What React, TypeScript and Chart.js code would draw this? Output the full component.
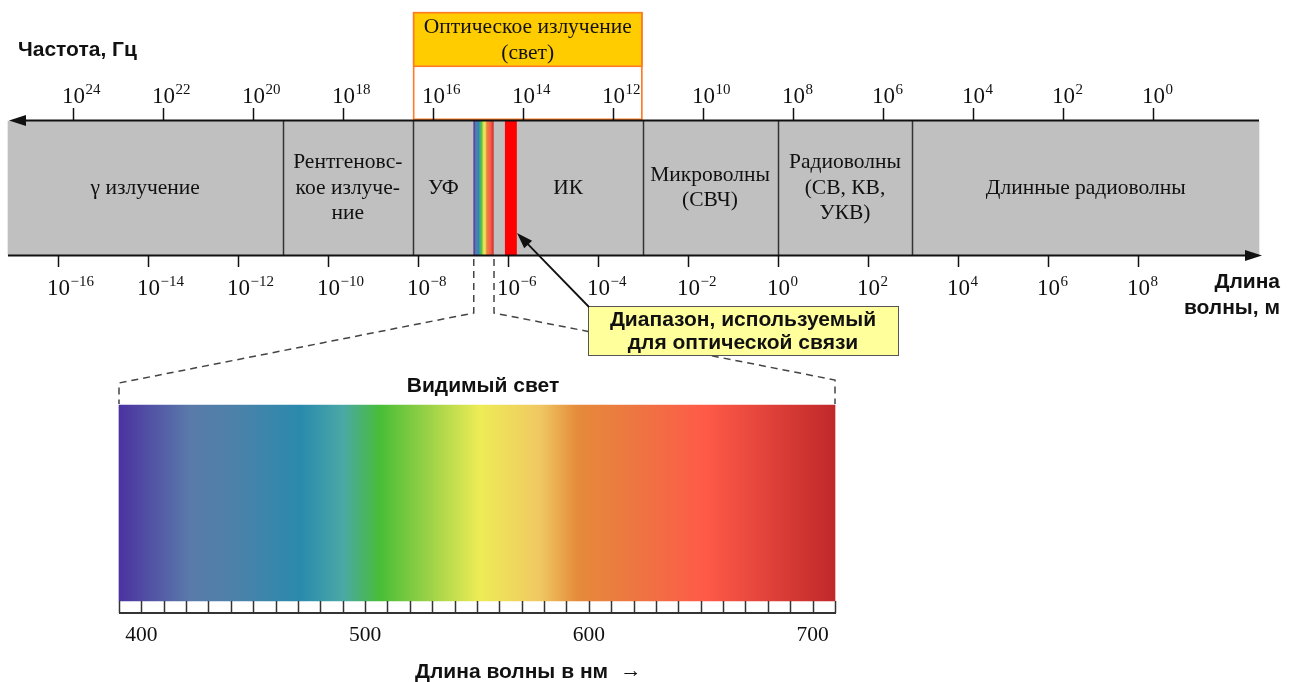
import React, { useEffect, useRef } from 'react';
import { Chart, registerables } from 'chart.js';

Chart.register(...registerables);

// ---------- data ----------
// Bands of the electromagnetic spectrum, in log10(wavelength, m)
const regionNames = [
  'γ излучение',
  'Рентгеновс-\nкое излуче-\nние',
  'УФ',
  '',
  'ИК',
  'Микроволны\n(СВЧ)',
  'Радиоволны\n(СВ, КВ,\nУКВ)',
  'Длинные радиоволны',
];
const regionStarts = [-17.1, -11.0, -8.1, -6.75, -6.3, -3.0, 0.0, 3.0];
const regionEnds = [-11.0, -8.1, -6.75, -6.3, -3.0, 0.0, 3.0, 10.7];
const regionDividers = [false, true, true, false, false, true, true, true];
const visibleIndex = 3;

const opticalRange = [-8.1, -3.0];
const opticalTitle = ['Оптическое излучение', '(свет)'];
const fiberRange = [-6.05, -5.8];
const calloutText = ['Диапазон, используемый', 'для оптической связи'];

const freqExponents = [24, 22, 20, 18, 16, 14, 12, 10, 8, 6, 4, 2, 0];
const waveExponents = [-16, -14, -12, -10, -8, -6, -4, -2, 0, 2, 4, 6, 8];

const visibleRangeNm = [390, 710];
const nmLabels = [400, 500, 600, 700];

const freqTitle = 'Частота, Гц';
const waveTitle = ['Длина', 'волны, м'];
const visibleTitle = 'Видимый свет';
const nmTitle = 'Длина волны в нм';

// ---------- styles ----------
const spectrumStops: [number, string][] = [
  [0, '#4B32A0'],
  [0.099, '#5A7AAA'],
  [0.169, '#4A82AA'],
  [0.253, '#2A8AAD'],
  [0.313, '#4AA8A6'],
  [0.365, '#48BE36'],
  [0.425, '#92CF45'],
  [0.504, '#EEEC56'],
  [0.588, '#F0C862'],
  [0.641, '#E58A3A'],
  [0.728, '#EE7442'],
  [0.82, '#FF5A48'],
  [1, '#C0282A'],
];
const W = 1294;
const H = 682;
const serif = (s: number) => `${s}px "Liberation Serif", "Times New Roman", serif`;
const sansB = (s: number) => `bold ${s}px "Liberation Sans", Arial, sans-serif`;
const TEXT_SERIF = 21.5;
const TEXT_SANS = 21;

function makeGradient(c: CanvasRenderingContext2D, x0: number, x1: number, fallback: string) {
  if (!isFinite(x0) || !isFinite(x1) || x0 === x1) return fallback;
  const g = c.createLinearGradient(x0, 0, x1, 0);
  spectrumStops.forEach(([o, col]) => g.addColorStop(o, col));
  return g;
}

function drawPow(c: CanvasRenderingContext2D, x: number, base: number, exp: number, big: number, small: number, raise: number) {
  c.fillStyle = '#111';
  c.textBaseline = 'alphabetic';
  c.textAlign = 'left';
  c.font = serif(big);
  const w10 = c.measureText('10').width;
  c.fillText('10', x - w10 / 2, base);
  c.font = serif(small);
  const s = exp < 0 ? '\u2212' + Math.abs(exp) : String(exp);
  c.fillText(s, x + w10 / 2 + 0.5, base - raise);
}

function arrowHead(c: CanvasRenderingContext2D, tx: number, ty: number, ang: number, len: number, half: number) {
  const bx = tx - Math.cos(ang) * len;
  const by = ty - Math.sin(ang) * len;
  const px = -Math.sin(ang) * half;
  const py = Math.cos(ang) * half;
  c.beginPath();
  c.moveTo(tx, ty);
  c.lineTo(bx + px, by + py);
  c.lineTo(bx - px, by - py);
  c.closePath();
  c.fill();
}

const overlay = {
  id: 'overlay',
  afterDatasetsDraw(chart: any) {
    const c: CanvasRenderingContext2D = chart.ctx;
    const xL = chart.scales.xL;
    const xF = chart.scales.xF;
    const xN = chart.scales.xN;
    c.save();

    // dividers between bands
    c.strokeStyle = '#333';
    c.lineWidth = 1.5;
    regionStarts.forEach((s, i) => {
      if (!regionDividers[i]) return;
      const x = Math.round(xL.getPixelForValue(s)) + 0.5;
      c.beginPath();
      c.moveTo(x, 121);
      c.lineTo(x, 255);
      c.stroke();
    });

    // axes lines
    c.strokeStyle = '#111';
    c.fillStyle = '#111';
    c.lineWidth = 2;
    c.beginPath();
    c.moveTo(14, 120.5);
    c.lineTo(xL.getPixelForValue(regionEnds[regionEnds.length - 1]), 120.5);
    c.stroke();
    arrowHead(c, 9, 120.5, Math.PI, 17, 5.5);
    c.beginPath();
    c.moveTo(xL.getPixelForValue(regionStarts[0]), 255.5);
    c.lineTo(1256, 255.5);
    c.stroke();
    arrowHead(c, 1262, 255.5, 0, 17, 5.5);

    // frequency ticks
    c.lineWidth = 1.5;
    freqExponents.forEach((e) => {
      const x = Math.round(xF.getPixelForValue(e)) + 0.5;
      c.strokeStyle = '#111';
      c.beginPath();
      c.moveTo(x, 108);
      c.lineTo(x, 120);
      c.stroke();
      drawPow(c, x, 103, e, 23, 15, 9);
    });
    // wavelength ticks
    waveExponents.forEach((e) => {
      const x = Math.round(xL.getPixelForValue(e)) + 0.5;
      c.strokeStyle = '#111';
      c.beginPath();
      c.moveTo(x, 256);
      c.lineTo(x, 267);
      c.stroke();
      drawPow(c, x, 295, e, 23, 15, 9);
    });

    // band labels
    c.fillStyle = '#111';
    c.font = serif(TEXT_SERIF);
    c.textAlign = 'center';
    c.textBaseline = 'middle';
    regionNames.forEach((n, i) => {
      if (!n) return;
      const lines = n.split('\n');
      const cx = xL.getPixelForValue((regionStarts[i] + regionEnds[i]) / 2);
      const lh = 25.5;
      const y0 = 188 - ((lines.length - 1) * lh) / 2;
      lines.forEach((l, k) => c.fillText(l, cx, y0 + k * lh));
    });

    // optical header text
    const ocx = xL.getPixelForValue((opticalRange[0] + opticalRange[1]) / 2);
    c.fillText(opticalTitle[0], ocx, 27);
    c.fillText(opticalTitle[1], ocx, 53);

    // axis titles
    c.font = sansB(TEXT_SANS);
    c.textAlign = 'left';
    c.fillText(freqTitle, 18, 50);
    c.textAlign = 'right';
    c.fillText(waveTitle[0], 1280, 282);
    c.fillText(waveTitle[1], 1280, 308);

    // dashed zoom lines
    const vL = xL.getPixelForValue(regionStarts[visibleIndex]);
    const vR = xL.getPixelForValue(regionEnds[visibleIndex]);
    const sL = xN.getPixelForValue(visibleRangeNm[0]);
    const sR = xN.getPixelForValue(visibleRangeNm[1]);
    c.strokeStyle = '#444';
    c.lineWidth = 1.5;
    c.setLineDash([7, 5]);
    c.beginPath();
    c.moveTo(vL, 259);
    c.lineTo(vL, 313);
    c.lineTo(sL, 383);
    c.lineTo(sL, 404);
    c.stroke();
    c.beginPath();
    c.moveTo(vR, 259);
    c.lineTo(vR, 313);
    c.lineTo(sR, 380);
    c.lineTo(sR, 404);
    c.stroke();
    c.setLineDash([]);

    // callout
    c.fillStyle = '#FFFF9C';
    c.fillRect(588.5, 306.5, 310, 49);
    c.strokeStyle = '#555';
    c.lineWidth = 1;
    c.strokeRect(588.5, 306.5, 310, 49);
    c.fillStyle = '#111';
    c.font = sansB(TEXT_SANS);
    c.textAlign = 'center';
    c.textBaseline = 'middle';
    c.fillText(calloutText[0], 743, 320);
    c.fillText(calloutText[1], 743, 343);

    // callout arrow to fiber band
    const fx = xL.getPixelForValue(fiberRange[1]);
    const tx = fx + 0.5;
    const ty = 233;
    const ang = Math.atan2(ty - 307, tx - 589);
    c.strokeStyle = '#111';
    c.lineWidth = 1.8;
    c.beginPath();
    c.moveTo(589, 307);
    c.lineTo(tx - Math.cos(ang) * 10, ty - Math.sin(ang) * 10);
    c.stroke();
    arrowHead(c, tx, ty, ang, 16, 5.5);

    // visible spectrum ticks (from the nm scale's own ticks)
    c.strokeStyle = '#333';
    c.lineWidth = 1.5;
    const nmTicks = xN.ticks
      .map((t: any) => t.value)
      .filter((v: number) => v >= visibleRangeNm[0] - 1e-6 && v <= visibleRangeNm[1] + 1e-6 && Math.abs(v / 10 - Math.round(v / 10)) < 1e-6);
    nmTicks.forEach((v: number) => {
      const x = Math.round(xN.getPixelForValue(v)) + 0.5;
      c.beginPath();
      c.moveTo(x, 601);
      c.lineTo(x, 613);
      c.stroke();
    });
    c.lineWidth = 2;
    c.beginPath();
    c.moveTo(sL, 613);
    c.lineTo(sR + 1, 613);
    c.stroke();

    c.fillStyle = '#111';
    c.font = serif(TEXT_SERIF);
    c.textAlign = 'center';
    nmLabels.forEach((v) => c.fillText(String(v), xN.getPixelForValue(v), 635));

    c.font = sansB(TEXT_SANS);
    c.fillText(visibleTitle, 483, 386);
    c.textAlign = 'left';
    c.fillText(nmTitle, 415, 672);
    const tw = c.measureText(nmTitle).width;
    c.font = serif(TEXT_SERIF);
    c.fillText('\u2192', 415 + tw + 12, 671);

    c.restore();
  },
};

export default function App() {
  const ref = useRef<HTMLCanvasElement | null>(null);
  useEffect(() => {
    document.body.style.margin = '0';
    const canvas = ref.current;
    if (!canvas) return;
    const common = { barPercentage: 1, categoryPercentage: 1, grouped: false, indexAxis: 'y', yAxisID: 'y', borderWidth: 0 };
    const chart = new Chart(canvas, {
      type: 'bar',
      data: {
        datasets: [
          {
            ...common,
            label: 'optical-body',
            data: [{ x: opticalRange, y: 66 }] as any,
            xAxisID: 'xL',
            barThickness: 108,
            backgroundColor: '#FFFFFF',
            borderColor: '#FF7A22',
            borderWidth: 1.8,
            borderSkipped: false,
            order: 5,
          } as any,
          {
            ...common,
            label: 'optical-head',
            data: [{ x: opticalRange, y: 39.5 }] as any,
            xAxisID: 'xL',
            barThickness: 55,
            backgroundColor: '#FFCC00',
            borderColor: '#FF7A22',
            borderWidth: 1.8,
            borderSkipped: false,
            order: 4,
          } as any,
          {
            ...common,
            label: 'bands',
            data: regionStarts.map((s, i) => ({ x: [s, regionEnds[i]], y: 188 })) as any,
            xAxisID: 'xL',
            barThickness: 134,
            backgroundColor: (ctx: any) => {
              if (ctx.dataIndex === visibleIndex && ctx.chart.scales.xL) {
                const s = ctx.chart.scales.xL;
                return makeGradient(ctx.chart.ctx, s.getPixelForValue(regionStarts[visibleIndex]), s.getPixelForValue(regionEnds[visibleIndex]), '#8080C0');
              }
              return '#C0C0C0';
            },
            order: 3,
          } as any,
          {
            ...common,
            label: 'fiber',
            data: [{ x: fiberRange, y: 188 }] as any,
            xAxisID: 'xL',
            barThickness: 134,
            backgroundColor: '#FF0000',
            order: 2,
          } as any,
          {
            ...common,
            label: 'visible',
            data: [{ x: visibleRangeNm, y: 503 }] as any,
            xAxisID: 'xN',
            barThickness: 196,
            backgroundColor: (ctx: any) => {
              const s = ctx.chart.scales.xN;
              if (!s) return '#888';
              return makeGradient(ctx.chart.ctx, s.getPixelForValue(visibleRangeNm[0]), s.getPixelForValue(visibleRangeNm[1]), '#888');
            },
            order: 1,
          } as any,
        ],
      },
      options: {
        indexAxis: 'y',
        responsive: false,
        animation: false,
        events: [],
        devicePixelRatio: 1,
        layout: { padding: 0 },
        plugins: { legend: { display: false }, tooltip: { enabled: false }, title: { display: false } },
        scales: {
          xL: { type: 'linear', axis: 'x', position: 'bottom', display: false, offset: false, grid: { offset: false }, min: -777.5 / 45, max: (W - 777.5) / 45 },
          xF: { type: 'linear', axis: 'x', position: 'top', display: false, offset: false, grid: { offset: false }, reverse: true, min: (1153.3 - W) / 45, max: 1153.3 / 45 },
          xN: {
            type: 'linear', axis: 'x', position: 'bottom', display: false, offset: false, grid: { offset: false },
            min: 390 - 119 / 2.2375, max: 390 + (W - 119) / 2.2375,
            ticks: { stepSize: 10, autoSkip: false, maxTicksLimit: 1000 },
          },
          y: { type: 'linear', axis: 'y', display: false, offset: false, grid: { offset: false }, reverse: true, min: 0, max: H },
        },
      } as any,
      plugins: [overlay],
    });
    return () => chart.destroy();
  }, []);
  return (
    <div style={{ position: 'fixed', left: 0, top: 0, width: W, height: H, background: '#fff' }}>
      <canvas ref={ref} width={W} height={H} style={{ display: 'block', width: W, height: H }} />
    </div>
  );
}
